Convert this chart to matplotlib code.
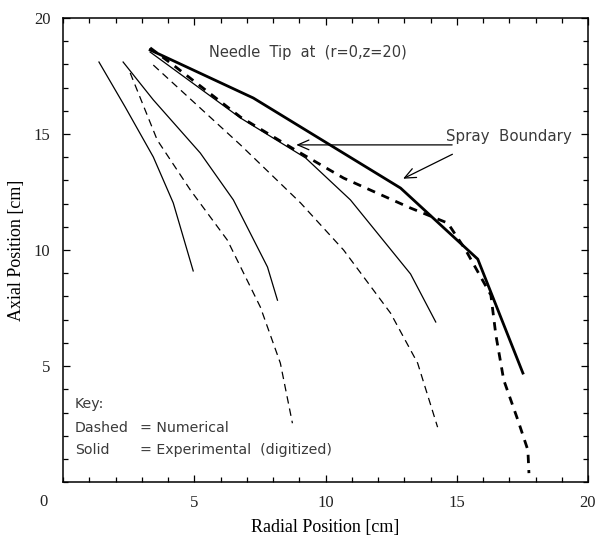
import matplotlib
matplotlib.use("Agg")
import matplotlib.pyplot as plt
from matplotlib.ticker import MultipleLocator

# spray boundary, experimental (thick solid)
exp_bound_r = [3.32, 7.25, 12.86, 15.80, 17.52]
exp_bound_z = [18.62, 16.55, 12.67, 9.61, 4.70]

# spray boundary, numerical (thick dashed)
num_bound_r = [3.32, 4.20, 6.76, 8.85, 10.69, 13.24, 14.66, 15.34, 16.30, 16.49, 16.79, 17.33, 17.71, 17.75]
num_bound_z = [18.71, 17.97, 15.73, 14.31, 13.10, 11.81, 11.16, 10.00, 8.06, 6.34, 4.40, 2.67, 1.38, 0.39]

# inner contours, experimental (thin solid)
exp1_r = [1.37, 2.37, 3.44, 4.20, 4.96]
exp1_z = [18.10, 16.16, 14.01, 12.03, 9.10]
exp2_r = [2.29, 3.44, 5.23, 6.49, 7.79, 8.17]
exp2_z = [18.10, 16.47, 14.18, 12.16, 9.27, 7.84]
exp3_r = [3.32, 6.76, 9.24, 10.95, 13.24, 14.20]
exp3_z = [18.53, 15.69, 13.97, 12.16, 8.97, 6.90]

# inner contours, numerical (thin dashed)
num2_r = [2.56, 3.59, 4.85, 6.26, 7.52, 8.28, 8.74]
num2_z = [17.63, 14.74, 12.59, 10.43, 7.54, 5.13, 2.54]
num3_r = [3.44, 6.76, 9.05, 10.69, 12.48, 13.51, 14.27]
num3_z = [17.97, 14.53, 12.03, 10.00, 7.28, 5.13, 2.37]

serif = "Liberation Serif"
sans = "DejaVu Sans"
txt_color = "#3a3a3a"

fig = plt.figure(figsize=(6, 5.43), dpi=100)
ax = fig.add_axes([0.105, 0.112, 0.875, 0.855])

# thin curves
ax.plot(exp1_r, exp1_z, color="black", lw=0.9)
ax.plot(exp2_r, exp2_z, color="black", lw=0.9)
ax.plot(exp3_r, exp3_z, color="black", lw=0.9)
ax.plot(num2_r, num2_z, color="black", lw=0.9, dashes=(6, 4))
ax.plot(num3_r, num3_z, color="black", lw=0.9, dashes=(6, 4))

# boundaries
ax.plot(exp_bound_r, exp_bound_z, color="black", lw=2.0)
ax.plot(num_bound_r, num_bound_z, color="black", lw=2.0, dashes=(3, 2.5))

# annotations
ax.text(5.55, 18.49, "Needle  Tip  at  (r=0,z=20)", fontsize=10.5, family=sans,
        color=txt_color, va="center")
ax.text(14.6, 14.9, "Spray  Boundary", fontsize=10.8, family=sans,
        color=txt_color, va="center")
arrow = dict(arrowstyle="->,head_length=0.8,head_width=0.35", color="black", lw=0.9)
ax.annotate("", xy=(8.78, 14.53), xytext=(14.93, 14.53), arrowprops=arrow)
ax.annotate("", xy=(12.86, 13.02), xytext=(14.93, 14.18), arrowprops=arrow)

key_size = 10.2
ax.text(0.46, 3.37, "Key:", fontsize=key_size, family=sans, color=txt_color, va="center")
ax.text(0.46, 2.32, "Dashed", fontsize=key_size, family=sans, color=txt_color, va="center")
ax.text(2.95, 2.32, "= Numerical", fontsize=key_size, family=sans, color=txt_color, va="center")
ax.text(0.46, 1.38, "Solid", fontsize=key_size, family=sans, color=txt_color, va="center")
ax.text(2.95, 1.38, "= Experimental  (digitized)", fontsize=key_size, family=sans,
        color=txt_color, va="center")

ax.set_xlim(0, 20)
ax.set_ylim(0, 20)
ax.xaxis.set_major_locator(MultipleLocator(5))
ax.yaxis.set_major_locator(MultipleLocator(5))
ax.xaxis.set_minor_locator(MultipleLocator(1))
ax.yaxis.set_minor_locator(MultipleLocator(1))
ax.tick_params(which="both", direction="in", top=True, right=True, width=0.9)
ax.tick_params(which="major", length=5)
ax.tick_params(which="minor", length=3.5)
ax.set_xticks([5, 10, 15, 20])
ax.set_yticks([5, 10, 15, 20])
for lbl in ax.get_xticklabels() + ax.get_yticklabels():
    lbl.set_family(serif)
    lbl.set_fontsize(12)
    lbl.set_color("#222222")
ax.tick_params(axis="x", pad=9)
ax.tick_params(axis="y", pad=9)
ax.text(-0.03, -0.025, "0", transform=ax.transAxes, ha="right", va="top",
        family=serif, fontsize=12, color="#222222")

for sp in ax.spines.values():
    sp.set_linewidth(1.1)

ax.set_xlabel("Radial Position [cm]", family=serif, fontsize=13, labelpad=6)
ax.set_ylabel("Axial Position [cm]", family=serif, fontsize=13, labelpad=6)

fig.savefig("out.png", dpi=100)
